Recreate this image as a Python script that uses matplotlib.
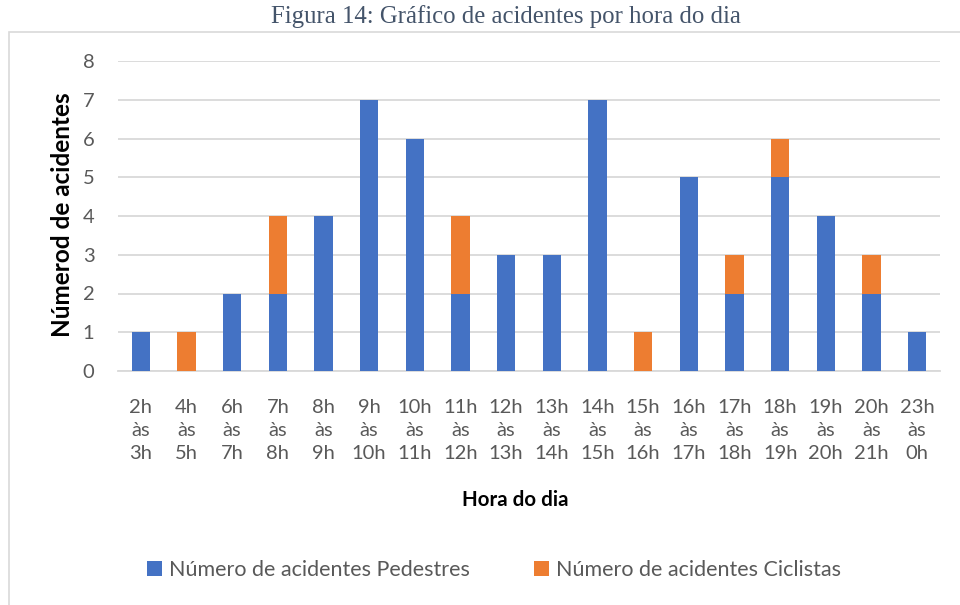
import matplotlib
matplotlib.use("Agg")
import matplotlib.pyplot as plt
from matplotlib.patches import Rectangle
import numpy as np

categories = ["2h\nàs\n3h", "4h\nàs\n5h", "6h\nàs\n7h", "7h\nàs\n8h", "8h\nàs\n9h",
              "9h\nàs\n10h", "10h\nàs\n11h", "11h\nàs\n12h", "12h\nàs\n13h", "13h\nàs\n14h",
              "14h\nàs\n15h", "15h\nàs\n16h", "16h\nàs\n17h", "17h\nàs\n18h", "18h\nàs\n19h",
              "19h\nàs\n20h", "20h\nàs\n21h", "23h\nàs\n0h"]
pedestres = [1, 0, 2, 2, 4, 7, 6, 2, 3, 3, 7, 0, 5, 2, 5, 4, 2, 1]
ciclistas = [0, 1, 0, 2, 0, 0, 0, 2, 0, 0, 0, 1, 0, 1, 1, 0, 1, 0]
yticks = [0, 1, 2, 3, 4, 5, 6, 7, 8]

plt.rcParams['font.family'] = ['Lato', 'DejaVu Sans']
txt = '#595959'

fig = plt.figure(figsize=(9.6, 6.05), dpi=100)
fig.patch.set_facecolor('white')

# outer chart frame
fig.patches.append(Rectangle((9/960, -0.05), 1.1, 1 - 32/605 + 0.05,
                             transform=fig.transFigure, fill=False,
                             edgecolor='#D9D9D9', linewidth=1.2))

fig.text(506/960, 1 - 17/605, "Figura 14: Gráfico de acidentes por hora do dia",
         family=['Liberation Serif', 'DejaVu Serif'], fontsize=17.8, color='#44546A',
         ha='center', va='center')

ax = fig.add_axes([118/960, 1 - 371/605, (940 - 118)/960, (371 - 61)/605])
x = np.arange(len(categories))
w = 0.4
ax.bar(x, pedestres, width=w, color='#4472C4', label='Número de acidentes Pedestres', zorder=3)
ax.bar(x, ciclistas, width=w, bottom=pedestres, color='#ED7D31',
       label='Número de acidentes Ciclistas', zorder=3)

ax.set_xlim(-0.5, len(categories) - 0.5)
ax.set_ylim(0, 8)
ax.set_yticks(yticks)
ax.set_yticklabels([str(v) for v in yticks])
ax.set_xticks(x)
ax.set_xticklabels(categories, linespacing=1.45)
ax.tick_params(axis='both', length=0, labelsize=14.5, colors=txt)
ax.tick_params(axis='x', pad=20)
ax.tick_params(axis='y', pad=17)
ax.grid(axis='y', color='#D9D9D9', linewidth=1.3, zorder=0)
for s in ['top', 'right', 'left']:
    ax.spines[s].set_visible(False)
ax.spines['bottom'].set_color('#D9D9D9')
ax.spines['bottom'].set_linewidth(1.3)

fig.text(62/960, 1 - 215/605, "Númerod de acidentes", rotation=90, fontsize=17.5,
         fontweight='bold', color='black', ha='center', va='center')
fig.text(515/960, 1 - 500/605, "Hora do dia", fontsize=14.8, fontweight='bold',
         color='black', ha='center', va='center')

leg = fig.legend(loc='center', bbox_to_anchor=(494/960, 1 - 570/605), ncol=2,
                 frameon=False, fontsize=15.5, handlelength=0.7, handleheight=0.7,
                 handletextpad=0.3, columnspacing=3.0, labelcolor=txt)

fig.savefig("out.png", dpi=100, facecolor='white')
